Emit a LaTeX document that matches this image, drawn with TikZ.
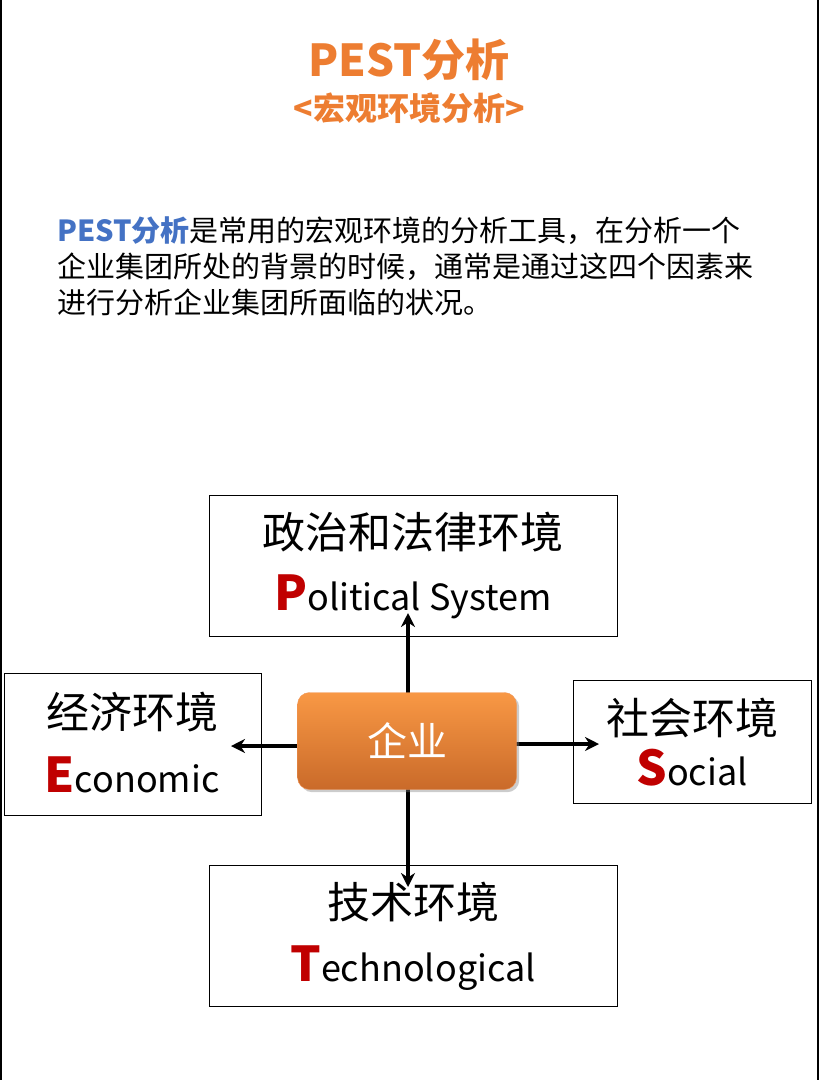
\documentclass[tikz,border=0pt]{standalone}
\usepackage{fontspec}
\setmainfont{Noto Sans CJK SC}
\usetikzlibrary{arrows.meta, positioning, shadows}
\definecolor{titleorange}{HTML}{ED7D31}
\definecolor{pestblue}{HTML}{4472C4}
\definecolor{initred}{HTML}{C00000}
\tikzset{
  envbox/.style = {draw, thick, fill=white},
  envtext/.style = {font=\fontsize{43}{48}\selectfont},
  entext/.style = {font=\fontsize{36}{40}\selectfont},
  linetext/.style = {anchor=west, font=\fontsize{29}{33}\selectfont, inner sep=0pt},
}
\newcommand{\initial}[1]{{\color{initred}\bfseries\fontsize{48}{52}\selectfont #1}}
\begin{document}
\begin{tikzpicture}[x=1pt, y=-1pt]
\useasboundingbox (0,0) rectangle (819,1080);
\draw [line width=2pt] (1,0) -- (1,1080) (818,0) -- (818,1080);

% title
\node (title) [text=titleorange, font=\bfseries\fontsize{44}{48}\selectfont] at (409,60) {PEST分析};
\node (subtitle) [text=titleorange, font=\bfseries\fontsize{32}{36}\selectfont] at (409,108) {<宏观环境分析>};

% text
\node (l1) [linetext] at (57,231) {\textcolor{pestblue}{\bfseries PEST分析}是常用的宏观环境的分析工具，在分析一个};
\node (l2) [linetext] at (57,267) {企业集团所处的背景的时候，通常是通过这四个因素来};
\node (l3) [linetext] at (57,302) {进行分析企业集团所面临的状况。};

% boxes
\draw [envbox] (209,495) rectangle (617,636);
\node (pol) [envtext] at (413,532) {政治和法律环境};
\node (pole) [entext] at (413,597) {\initial{P}olitical System};
\draw [envbox] (4,673) rectangle (261,815);
\node (eco) [envtext] at (132,712) {经济环境};
\node (ecoe) [entext] at (132,775) {\initial{E}conomic};
\draw [envbox] (573,680) rectangle (811,803);
\node (soc) [envtext] at (692,718) {社会环境};
\node (soce) [entext] at (692,768) {\initial{S}ocial};
\draw [envbox] (209,865) rectangle (617,1006);
\node (tec) [envtext] at (413,902) {技术环境};
\node (tece) [entext] at (413,968) {\initial{T}echnological};

\coordinate (tipP) at (408,613);
\coordinate (tipE) at (231,746);
\coordinate (tipS) at (599,744);
\coordinate (tipT) at (408,887);

\path [draw, line width=4pt, -{Stealth[length=14pt, width=14pt]}]
  (408,746) -- (tipP);
\path [draw, line width=4pt, -{Stealth[length=14pt, width=14pt]}]
  (408,746) -- (tipE);
\path [draw, line width=4pt, -{Stealth[length=14pt, width=14pt]}]
  (408,744) -- (tipS);
\path [draw, line width=4pt, -{Stealth[length=14pt, width=14pt]}]
  (408,746) -- (tipT);

\node (firm) [minimum width=219pt, minimum height=97pt, rounded corners=12pt,
  top color=orange!55!titleorange!80!white, bottom color=titleorange!85!black,
  draw=titleorange!80!white, drop shadow={opacity=0.4},
  text=white, font=\fontsize{40}{44}\selectfont] at (407,741) {企业};
\end{tikzpicture}
\end{document}
